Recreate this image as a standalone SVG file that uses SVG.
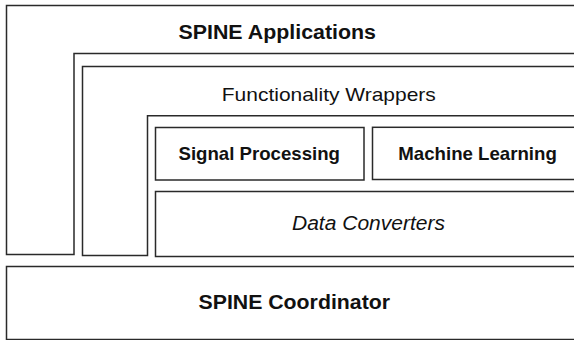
<svg xmlns="http://www.w3.org/2000/svg" width="574" height="340" viewBox="0 0 574 340">
  <style>
    .frame { fill: #ffffff; stroke: #2a2a2a; stroke-width: 1.5; }
    .label { font-family: "Liberation Sans", Arial, Helvetica, sans-serif; fill: #111111; }
    .bold { font-weight: bold; }
    .italic { font-style: italic; }
  </style>
  <rect x="0" y="0" width="574" height="340" fill="#ffffff"/>

  <!-- Application layer: L-shaped band wrapping the layers below -->
  <g id="spine-applications">
    <path class="frame" d="M6.5,5.5 H590 V53.5 H74 V254.5 H6.5 Z"/>
    <text class="label bold" x="178.5" y="39.3" font-size="19.5" textLength="197.5" lengthAdjust="spacingAndGlyphs">SPINE Applications</text>
  </g>

  <!-- Wrapper layer: second L-shaped band -->
  <g id="functionality-wrappers">
    <path class="frame" d="M82.5,66.5 H590 V115.8 H147.5 V255.5 H82.5 Z"/>
    <text class="label" x="221.8" y="100.7" font-size="19" textLength="214" lengthAdjust="spacingAndGlyphs">Functionality Wrappers</text>
  </g>

  <g id="signal-processing">
    <rect class="frame" x="155.5" y="127.5" width="208.5" height="52.5"/>
    <text class="label bold" x="178.5" y="160" font-size="18.5" textLength="161.5" lengthAdjust="spacingAndGlyphs">Signal Processing</text>
  </g>

  <g id="machine-learning">
    <rect class="frame" x="372.5" y="127.3" width="220" height="52.2"/>
    <text class="label bold" x="398.3" y="160" font-size="18.5" textLength="158.5" lengthAdjust="spacingAndGlyphs">Machine Learning</text>
  </g>

  <g id="data-converters">
    <rect class="frame" x="155.5" y="191.5" width="437" height="65"/>
    <text class="label italic" x="292" y="230" font-size="19.5" textLength="153" lengthAdjust="spacingAndGlyphs">Data Converters</text>
  </g>

  <g id="spine-coordinator">
    <rect class="frame" x="6.5" y="266.5" width="586" height="73"/>
    <text class="label bold" x="198.5" y="309.3" font-size="20" textLength="191.5" lengthAdjust="spacingAndGlyphs">SPINE Coordinator</text>
  </g>

  <!-- layered stack: no connectors between layers -->
  <g id="connectors"/>
</svg>
